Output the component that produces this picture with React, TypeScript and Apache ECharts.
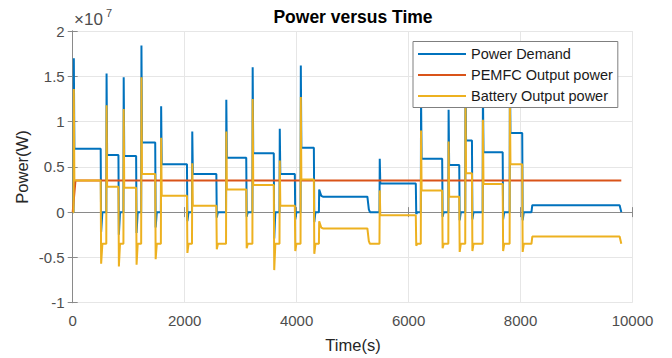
import React, { useEffect, useRef } from "react";
import * as echarts from "echarts";

// Values in units of 10^7 W
const TIME = [
  0, 15, 20, 30, 500, 508, 530,
  600, 605, 615, 817, 825, 845,
  906, 911, 921, 1133, 1141, 1161,
  1223, 1228, 1238, 1474, 1482, 1502,
  1575, 1580, 1590, 2041, 2049, 2069,
  2131, 2136, 2146, 2566, 2574, 2594,
  2739, 2744, 2754, 3100, 3108, 3128,
  3210, 3215, 3225, 3592, 3600, 3620,
  3694, 3699, 3709, 3968, 3976, 3996,
  4070, 4075, 4085, 4308, 4316, 4336,
  4398, 4403, 4440, 4470, 5264, 5290, 5310,
  5480, 5485, 5495, 6129, 6137, 6157,
  6218, 6223, 6233, 6600, 6608, 6628,
  6710, 6715, 6725, 6905, 6913, 6933,
  7012, 7017, 7027, 7132, 7140, 7160,
  7323, 7328, 7338, 7681, 7689, 7709,
  7805, 7810, 7820, 8030, 8038, 8058,
  8195, 8210, 9770, 9800,
];

const DEMAND = [
  0, 0, 1.7, 0.7, 0.7, -0.22, 0,
  0, 1.53, 0.63, 0.63, -0.25, 0,
  0, 1.49, 0.62, 0.62, -0.23, 0,
  0, 1.84, 0.77, 0.77, -0.17, 0,
  0, 1.17, 0.53, 0.53, -0.1, 0,
  0, 0.89, 0.42, 0.42, -0.06, 0,
  0, 1.24, 0.6, 0.6, -0.05, 0,
  0, 1.6, 0.65, 0.65, -0.29, 0,
  0, 0.92, 0.42, 0.42, -0.08, 0,
  0, 1.62, 0.71, 0.71, -0.11, 0,
  0, 0.25, 0.18, 0.17, 0.17, 0.03, 0,
  0, 0.59, 0.316, 0.316, -0.02, 0,
  0, 1.25, 0.59, 0.59, -0.05, 0,
  0, 1.13, 0.52, 0.52, -0.09, 0,
  0, 1.55, 0.79, 0.79, -0.08, 0,
  0, 1.37, 0.66, 0.66, -0.08, 0,
  0, 1.6, 0.875, 0.875, -0.09, 0,
  0, 0.077, 0.077, 0,
];

const BATTERY = [
  0, 0, 1.36, 0.35, 0.35, -0.57, -0.35,
  -0.35, 1.18, 0.28, 0.28, -0.6, -0.35,
  -0.35, 1.14, 0.27, 0.27, -0.58, -0.35,
  -0.35, 1.49, 0.42, 0.42, -0.52, -0.35,
  -0.35, 0.82, 0.18, 0.18, -0.45, -0.35,
  -0.35, 0.54, 0.07, 0.07, -0.41, -0.35,
  -0.35, 0.89, 0.25, 0.25, -0.4, -0.35,
  -0.35, 1.25, 0.3, 0.3, -0.64, -0.35,
  -0.35, 0.57, 0.07, 0.07, -0.43, -0.35,
  -0.35, 1.27, 0.36, 0.36, -0.46, -0.35,
  -0.35, -0.1, -0.17, -0.18, -0.18, -0.32, -0.35,
  -0.35, 0.24, -0.034, -0.034, -0.37, -0.35,
  -0.35, 0.9, 0.24, 0.24, -0.4, -0.35,
  -0.35, 0.78, 0.17, 0.17, -0.44, -0.35,
  -0.35, 1.2, 0.43, 0.43, -0.43, -0.35,
  -0.35, 1.02, 0.31, 0.31, -0.43, -0.35,
  -0.35, 1.25, 0.53, 0.53, -0.44, -0.35,
  -0.35, -0.27, -0.27, -0.35,
];

const PEMFC_TIME = [0, 50, 9800];
const PEMFC = [0, 0.35, 0.35];

const X_TICKS = { min: 0, max: 10000, interval: 2000 };
const Y_TICKS = { min: -1, max: 2, interval: 0.5 };

const SERIES_NAMES = ["Power Demand", "PEMFC Output power", "Battery Output power"];
const COLORS = ["#0072BD", "#D95319", "#EDB120"];

const FONT = "'Liberation Sans', Arial, Helvetica, sans-serif";

export default function App() {
  const ref = useRef<HTMLDivElement>(null);

  useEffect(() => {
    if (!ref.current) return;
    const chart = echarts.init(ref.current, undefined, { renderer: "svg" });

    const axisLine = { show: true, lineStyle: { color: "#8a8a8a", width: 1 } };
    const axisTick = { show: true, inside: true, length: 5, lineStyle: { color: "#8a8a8a" } };
    const axisLabel = { color: "#4d4d4d", fontSize: 15, fontFamily: FONT };

    chart.setOption({
      animation: false,
      textStyle: { fontFamily: FONT },
      grid: { left: 72.7, right: 39.5, top: 31, bottom: 55.3, containLabel: false },
      xAxis: [
        {
          type: "value",
          ...X_TICKS,
          axisLine,
          axisTick,
          axisLabel: { ...axisLabel, margin: 10, formatter: (v: number) => String(v) },
          splitLine: { show: true, lineStyle: { color: "#e6e6e6", width: 1 } },
        },
        {
          type: "value",
          position: "top",
          ...X_TICKS,
          axisLine,
          axisTick,
          axisLabel: { show: false },
          splitLine: { show: false },
        },
      ],
      yAxis: [
        {
          type: "value",
          ...Y_TICKS,
          axisLine,
          axisTick,
          axisLabel: { ...axisLabel, margin: 8, formatter: (v: number) => String(v) },
          splitLine: { show: true, lineStyle: { color: "#e6e6e6", width: 1 } },
        },
        {
          type: "value",
          position: "right",
          ...Y_TICKS,
          axisLine,
          axisTick,
          axisLabel: { show: false },
          splitLine: { show: false },
        },
      ],
      legend: {
        orient: "vertical",
        left: 413,
        top: 41.5,
        padding: [2, 5, 1, 5],
        itemGap: 0,
        itemWidth: 48,
        itemHeight: 2,
        icon: "rect",
        backgroundColor: "#ffffff",
        borderColor: "#7f7f7f",
        borderWidth: 1,
        borderRadius: 0,
        textStyle: { color: "#1a1a1a", fontSize: 14.5, lineHeight: 21, fontFamily: FONT },
        data: SERIES_NAMES,
      },
      graphic: [
        {
          type: "text",
          x: 353,
          y: 17,
          style: {
            text: "Power versus Time",
            fill: "#000",
            font: `bold 17.5px ${FONT}`,
            textAlign: "center",
            textVerticalAlign: "middle",
          },
        },
        {
          type: "text",
          x: 74,
          y: 19,
          style: {
            text: "×10",
            fill: "#4d4d4d",
            font: `17px ${FONT}`,
            textAlign: "left",
            textVerticalAlign: "middle",
          },
        },
        {
          type: "text",
          x: 106,
          y: 12.5,
          style: {
            text: "7",
            fill: "#4d4d4d",
            font: `11px ${FONT}`,
            textAlign: "left",
            textVerticalAlign: "middle",
          },
        },
        {
          type: "text",
          x: 353,
          y: 345,
          style: {
            text: "Time(s)",
            fill: "#262626",
            font: `16.5px ${FONT}`,
            textAlign: "center",
            textVerticalAlign: "middle",
          },
        },
        {
          type: "text",
          x: 21.5,
          y: 167,
          rotation: Math.PI / 2,
          style: {
            text: "Power(W)",
            fill: "#262626",
            font: `16.5px ${FONT}`,
            textAlign: "center",
            textVerticalAlign: "middle",
          },
        },
      ],
      series: [
        {
          name: SERIES_NAMES[0],
          type: "line",
          showSymbol: false,
          symbol: "none",
          color: COLORS[0],
          lineStyle: { width: 2, color: COLORS[0] },
          data: TIME.map((t, i) => [t, DEMAND[i]]),
        },
        {
          name: SERIES_NAMES[1],
          type: "line",
          showSymbol: false,
          symbol: "none",
          color: COLORS[1],
          lineStyle: { width: 2, color: COLORS[1] },
          data: PEMFC_TIME.map((t, i) => [t, PEMFC[i]]),
        },
        {
          name: SERIES_NAMES[2],
          type: "line",
          showSymbol: false,
          symbol: "none",
          color: COLORS[2],
          lineStyle: { width: 2, color: COLORS[2] },
          data: TIME.map((t, i) => [t, BATTERY[i]]),
        },
      ],
    });

    return () => chart.dispose();
  }, []);

  return (
    <div
      ref={ref}
      style={{ position: "absolute", left: 0, top: 0, width: 672, height: 358 }}
    />
  );
}
